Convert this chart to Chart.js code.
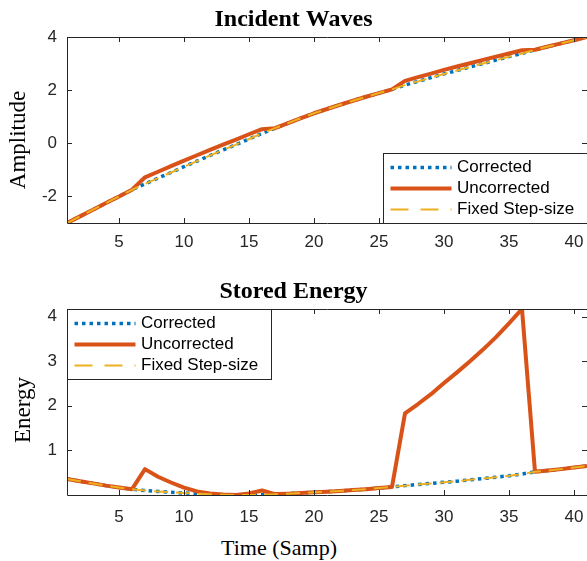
<!DOCTYPE html>
<html>
<head>
<meta charset="utf-8">
<script src="https://cdn.jsdelivr.net/npm/chart.js@4.4.1/dist/chart.umd.min.js"></script>
<style>
  html, body { margin: 0; padding: 0; background: #fff; width: 587px; height: 561px; overflow: hidden; }
  body { position: relative; }
  .plot { position: absolute; left: 0; width: 606px; height: 262px; }
  .lbl { position: absolute; font-family: 'Liberation Serif', 'Times New Roman', serif; font-size: 22px; line-height: 22px; color: #000; white-space: nowrap; }
  .rot { font-size: 23px; line-height: 23px; transform: translate(-50%, -50%) rotate(-90deg); }
</style>
</head>
<body>
<div class="plot" style="top:0"><canvas id="waves"></canvas></div>
<div class="plot" style="top:272px"><canvas id="energy"></canvas></div>
<div class="lbl rot" style="left:17px; top:140px">Amplitude</div>
<div class="lbl rot" style="left:22px; top:410px">Energy</div>
<div class="lbl" style="left:279px; top:537px; transform: translateX(-50%)">Time (Samp)</div>
<script>
// samples on the x axis
const samples = [1,2,3,4,5,6,7,8,9,10,11,12,13,14,15,16,17,18,19,20,21,22,23,24,25,26,27,28,29,30,31,32,33,34,35,36,37,38,39,40,41];
const seriesNames = ['Corrected', 'Uncorrected', 'Fixed Step-size'];

const xTicks = [5, 10, 15, 20, 25, 30, 35, 40];
const ampTicks = [-2, 0, 2, 4];
const energyTicks = [1, 2, 3, 4];

// incident waves
const ampCorrected = [-3.00,-2.75,-2.50,-2.25,-2.00,-1.75,-1.53,-1.31,-1.10,-0.88,-0.67,-0.46,-0.25,-0.05,0.16,0.37,0.57,0.76,0.95,1.13,1.29,1.45,1.60,1.75,1.89,2.03,2.19,2.33,2.47,2.61,2.74,2.87,3.00,3.13,3.26,3.38,3.52,3.64,3.76,3.88,4.00];
const ampUncorrected = [-3.00,-2.75,-2.50,-2.25,-2.00,-1.75,-1.28,-1.07,-0.86,-0.65,-0.45,-0.25,-0.05,0.14,0.34,0.53,0.57,0.76,0.95,1.13,1.29,1.45,1.60,1.75,1.89,2.03,2.35,2.49,2.62,2.76,2.89,3.01,3.14,3.26,3.38,3.50,3.52,3.64,3.76,3.88,4.00];
const ampFixed = [-3.00,-2.75,-2.50,-2.25,-2.00,-1.75,-1.53,-1.31,-1.10,-0.88,-0.67,-0.46,-0.25,-0.05,0.16,0.37,0.57,0.76,0.95,1.13,1.29,1.45,1.60,1.75,1.89,2.03,2.19,2.33,2.47,2.61,2.74,2.87,3.00,3.13,3.26,3.38,3.52,3.64,3.76,3.88,4.00];

// stored energy
const energyCorrected = [0.36,0.31,0.26,0.21,0.17,0.13,0.10,0.08,0.06,0.045,0.03,0.015,0.005,0.0,0.0,0.005,0.015,0.03,0.045,0.06,0.075,0.09,0.11,0.13,0.155,0.18,0.21,0.235,0.26,0.285,0.31,0.34,0.37,0.40,0.43,0.47,0.52,0.55,0.58,0.615,0.65];
const energyUncorrected = [0.36,0.31,0.26,0.21,0.17,0.13,0.58,0.41,0.28,0.165,0.08,0.035,0.01,0.0,0.035,0.10,0.02,0.03,0.045,0.06,0.075,0.09,0.11,0.13,0.155,0.18,1.83,2.04,2.26,2.51,2.75,3.00,3.26,3.54,3.85,4.17,0.52,0.55,0.58,0.615,0.65];
const energyFixed = [0.36,0.31,0.26,0.21,0.17,0.13,0.10,0.08,0.06,0.045,0.03,0.015,0.005,0.0,0.0,0.005,0.015,0.03,0.045,0.06,0.075,0.09,0.11,0.13,0.155,0.18,0.21,0.235,0.26,0.285,0.31,0.34,0.37,0.40,0.43,0.47,0.52,0.55,0.58,0.615,0.65];

const axisColor = '#262626';
const sansFamily = "'Liberation Sans', Arial, sans-serif";
const tickFont = { family: sansFamily, size: 17 };

// box round the plot with inward ticks on all four sides
const axesBox = {
  id: 'axesBox',
  afterDatasetsDraw(chart) {
    const { ctx, chartArea: a } = chart;
    const xs = chart.scales.x, ys = chart.scales.y;
    ctx.save();
    ctx.strokeStyle = axisColor;
    ctx.lineWidth = 1;
    ctx.beginPath();
    ctx.rect(a.left + 0.5, a.top + 0.5, a.right - a.left, a.bottom - a.top);
    xs.ticks.forEach(t => {
      const px = Math.round(xs.getPixelForValue(t.value)) + 0.5;
      ctx.moveTo(px, a.bottom); ctx.lineTo(px, a.bottom - 5);
      ctx.moveTo(px, a.top); ctx.lineTo(px, a.top + 5);
    });
    ys.ticks.forEach(t => {
      const py = Math.round(ys.getPixelForValue(t.value)) + 0.5;
      ctx.moveTo(a.left, py); ctx.lineTo(a.left + 5, py);
      ctx.moveTo(a.right, py); ctx.lineTo(a.right - 5, py);
    });
    ctx.stroke();
    ctx.restore();
  }
};

// legend box drawn inside the axes
const insideLegend = {
  id: 'insideLegend',
  afterDraw(chart, args, opts) {
    const { ctx, chartArea: a } = chart;
    const w = 204, h = 70;
    const x0 = opts.corner === 'se' ? a.right - w : a.left;
    const y0 = opts.corner === 'se' ? a.bottom - h : a.top;
    ctx.save();
    ctx.fillStyle = '#fff';
    ctx.fillRect(x0, y0, w, h);
    ctx.strokeStyle = axisColor;
    ctx.lineWidth = 1;
    ctx.strokeRect(Math.round(x0) + 0.5, Math.round(y0) + 0.5, w, h);
    seriesNames.forEach((name, i) => {
      const ds = chart.data.datasets[i];
      const y = Math.round(y0 + 14 + i * 21) + 0.5;
      ctx.beginPath();
      ctx.setLineDash(ds.legendDash || ds.borderDash || []);
      ctx.lineCap = 'butt';
      ctx.lineWidth = ds.borderWidth;
      ctx.strokeStyle = ds.borderColor;
      ctx.moveTo(x0 + 7.5, y);
      ctx.lineTo(x0 + 68.5, y);
      ctx.stroke();
      ctx.setLineDash([]);
      ctx.fillStyle = '#000';
      ctx.font = '17px ' + sansFamily;
      ctx.textBaseline = 'middle';
      ctx.fillText(name, x0 + 74, y);
    });
    ctx.restore();
  }
};

function pts(values) {
  return samples.map((s, i) => ({ x: s, y: values[i] }));
}

function makeChart(id, title, series, yMin, yMax, yTicks, corner, xPad) {
  return new Chart(document.getElementById(id), {
    type: 'line',
    data: {
      datasets: [
        { label: seriesNames[0], data: pts(series[0]), borderColor: '#0072BD', borderWidth: 3.5, borderDash: [3.5, 4], order: 3 },
        { label: seriesNames[1], data: pts(series[1]), borderColor: '#D95319', borderWidth: 4, order: 2 },
        { label: seriesNames[2], data: pts(series[2]), borderColor: '#EDB120', borderWidth: 2, borderDash: [14, 8], legendDash: [18, 12], order: 1 }
      ]
    },
    options: {
      responsive: true,
      maintainAspectRatio: false,
      animation: false,
      events: [],
      layout: { padding: { left: 0, right: 19, top: 0, bottom: 0 } },
      elements: {
        point: { radius: 0 },
        line: { tension: 0, fill: false, borderJoinStyle: 'round', borderCapStyle: 'butt' }
      },
      scales: {
        x: {
          type: 'linear', min: 1, max: 41,
          grid: { display: false, drawTicks: false },
          border: { display: false },
          afterBuildTicks: s => { s.ticks = xTicks.map(v => ({ value: v })); },
          afterFit: s => { s.height = 39; },
          ticks: { font: tickFont, color: axisColor, padding: xPad, maxRotation: 0, autoSkip: false }
        },
        y: {
          type: 'linear', min: yMin, max: yMax,
          grid: { display: false, drawTicks: false },
          border: { display: false },
          afterBuildTicks: s => { s.ticks = yTicks.map(v => ({ value: v })); },
          afterFit: s => { s.width = 67; },
          ticks: { font: tickFont, color: axisColor, padding: 10, autoSkip: false }
        }
      },
      plugins: {
        legend: { display: false },
        tooltip: { enabled: false },
        title: {
          display: true, text: title, color: '#000',
          font: { family: "'Liberation Serif', 'Times New Roman', serif", size: 24, weight: 'bold', lineHeight: 1.1 },
          padding: { top: 6.5, bottom: 4.1 }
        },
        insideLegend: { corner: corner }
      }
    },
    plugins: [axesBox, insideLegend]
  });
}

makeChart('waves', 'Incident Waves', [ampCorrected, ampUncorrected, ampFixed], -3, 4, ampTicks, 'se', 9);
makeChart('energy', 'Stored Energy', [energyCorrected, energyUncorrected, energyFixed], 0, 4.17, energyTicks, 'nw', 12);
</script>
</body>
</html>
